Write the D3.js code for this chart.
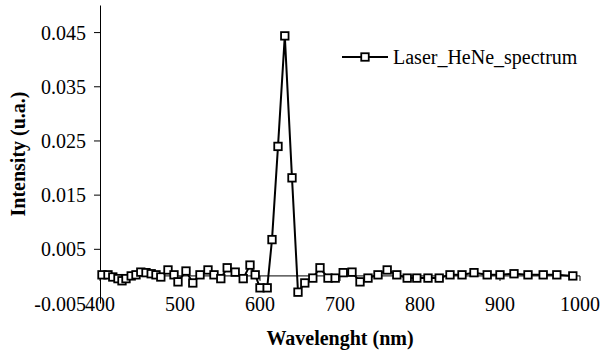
<!DOCTYPE html>
<html>
<head>
<meta charset="utf-8">
<script src="https://cdn.jsdelivr.net/npm/d3@7"></script>
<style>
  body { margin: 0; background: #fff; font-family: "Liberation Serif", "Times New Roman", Tinos, serif; }
</style>
</head>
<body>
<script>
// ---------------------------------------------------------------------------
// Data
// ---------------------------------------------------------------------------
const seriesName = "Laser_HeNe_spectrum";

const wavelength = [
  402.5, 410, 416, 422.5, 427.5, 432.5, 439, 445, 451, 457.5,
  464, 470, 476, 485, 492.5, 497.5, 507.5, 516, 525, 535,
  542.5, 551, 559, 569, 579, 587.5, 594, 600, 609, 615,
  622.5, 631, 640, 647.5, 656, 666, 675, 685, 694, 704,
  715, 725, 735, 747.5, 759, 771, 784, 796, 810, 824,
  837.5, 852.5, 867.5, 884, 900, 917.5, 935, 954, 971, 991
];

const intensity = [
  0.0002, 0.0002, -0.0002, -0.0005, -0.0009, -0.0005, 0.0000, 0.0002, 0.0007, 0.0006,
  0.0004, 0.0002, -0.0002, 0.0011, 0.0002, -0.0011, 0.0009, -0.0013, 0.0002, 0.0011,
  0.0002, -0.0005, 0.0015, 0.0007, -0.0005, 0.0020, 0.0002, -0.0022, -0.0022, 0.0067,
  0.0239, 0.0443, 0.0181, -0.0030, -0.0013, -0.0004, 0.0015, -0.0004, -0.0004, 0.0006,
  0.0007, -0.0011, -0.0004, 0.0002, 0.0011, 0.0002, -0.0004, -0.0004, -0.0004, -0.0004,
  0.0002, 0.0002, 0.0006, 0.0002, 0.0002, 0.0004, 0.0002, 0.0002, 0.0002, 0.0000
];

const xTicks = [400, 500, 600, 700, 800, 900, 1000];
const yTicks = [-0.005, 0.005, 0.015, 0.025, 0.035, 0.045];

// ---------------------------------------------------------------------------
// Canvas and scales
// ---------------------------------------------------------------------------
const W = 601, H = 354;
const plot = { left: 100, right: 580, top: 5, bottom: 303 };
const serif = "Liberation Serif";

const svg = d3.select("body").append("svg")
    .attr("width", W)
    .attr("height", H)
    .attr("font-family", serif);

const x = d3.scaleLinear().domain([400, 1000]).range([plot.left, plot.right]);
const y = d3.scaleLinear().domain([-0.005, 0.05]).range([plot.bottom, plot.top]);

const points = wavelength.map((w, i) => ({ w: w, v: intensity[i] }));

// ---------------------------------------------------------------------------
// Axes (Excel style: horizontal axis crosses at 0, labels at the bottom)
// ---------------------------------------------------------------------------
const fmt = d => (d < 0 ? "-" : "") + d3.format(".3f")(Math.abs(d));

const yAxis = svg.append("g")
    .attr("transform", `translate(${plot.left},0)`)
    .call(d3.axisLeft(y).tickValues(yTicks).tickSize(6).tickSizeOuter(0).tickFormat(fmt))
    .attr("font-family", serif)
    .attr("font-size", 20);
yAxis.select(".domain").attr("stroke", "#000").attr("stroke-width", 1);
yAxis.selectAll(".tick line").attr("stroke", "#000");
yAxis.selectAll(".tick").filter(d => d === -0.005).select("line").remove();
yAxis.selectAll(".tick text")
    .attr("x", -14)
    .attr("fill", "#000")
    .attr("dy", "0.35em");

// zero line acting as the horizontal axis
svg.append("line")
    .attr("x1", plot.left).attr("x2", plot.right)
    .attr("y1", y(0)).attr("y2", y(0))
    .attr("stroke", "#000").attr("stroke-width", 1);

svg.append("g").selectAll("line")
    .data(xTicks)
    .join("line")
    .attr("x1", d => x(d)).attr("x2", d => x(d))
    .attr("y1", y(0)).attr("y2", y(0) + 5)
    .attr("stroke", "#000");

svg.append("g")
    .attr("font-size", 20)
    .selectAll("text")
    .data(xTicks)
    .join("text")
    .attr("x", d => x(d))
    .attr("y", plot.bottom + 1)
    .attr("dy", "0.35em")
    .attr("text-anchor", "middle")
    .text(d => d);

// axis titles
svg.append("text")
    .attr("transform", `translate(25,${(plot.top + plot.bottom) / 2}) rotate(-90)`)
    .attr("text-anchor", "middle")
    .attr("font-size", 20)
    .attr("font-weight", "bold")
    .text("Intensity (u.a.)");

svg.append("text")
    .attr("x", 340)
    .attr("y", 345)
    .attr("text-anchor", "middle")
    .attr("font-size", 20)
    .attr("font-weight", "bold")
    .text("Wavelenght (nm)");

// ---------------------------------------------------------------------------
// Series
// ---------------------------------------------------------------------------
const line = d3.line().x(d => x(d.w)).y(d => y(d.v));

svg.append("path")
    .datum(points)
    .attr("d", line)
    .attr("fill", "none")
    .attr("stroke", "#000")
    .attr("stroke-width", 2);

const mk = 7.5;
svg.append("g").selectAll("rect")
    .data(points)
    .join("rect")
    .attr("x", d => x(d.w) - mk / 2)
    .attr("y", d => y(d.v) - mk / 2)
    .attr("width", mk)
    .attr("height", mk)
    .attr("fill", "#fff")
    .attr("stroke", "#000")
    .attr("stroke-width", 1.8);

// ---------------------------------------------------------------------------
// Legend
// ---------------------------------------------------------------------------
const lg = svg.append("g").attr("transform", "translate(342,57)");
lg.append("line")
    .attr("x1", 0).attr("x2", 46)
    .attr("stroke", "#000").attr("stroke-width", 2);
lg.append("rect")
    .attr("x", 23 - mk / 2).attr("y", -mk / 2)
    .attr("width", mk).attr("height", mk)
    .attr("fill", "#fff").attr("stroke", "#000").attr("stroke-width", 1.8);
lg.append("text")
    .attr("x", 51)
    .attr("dy", "0.35em")
    .attr("font-size", 20)
    .text(seriesName);
</script>
</body>
</html>
